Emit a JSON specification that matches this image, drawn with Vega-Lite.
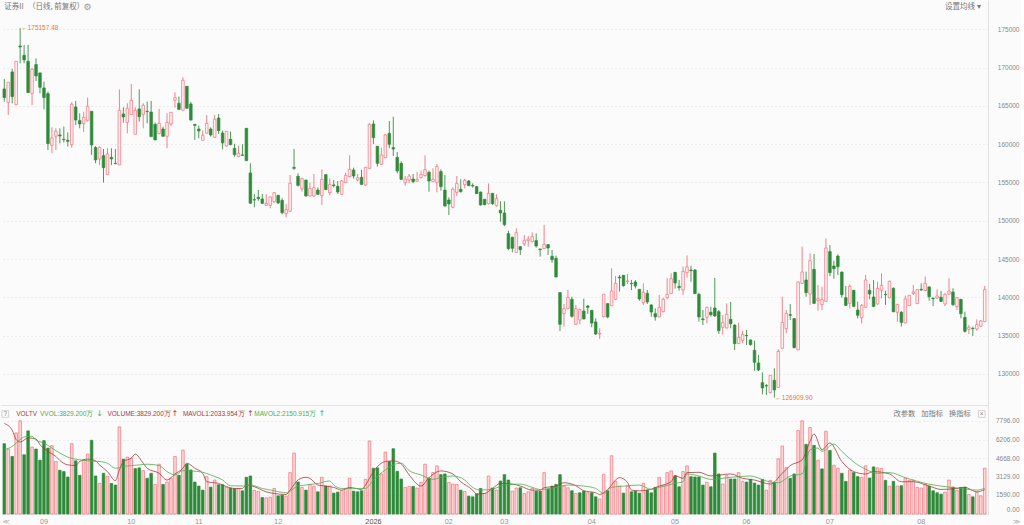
{
"$schema":"https://vega.github.io/schema/vega-lite/v6.json",
"description":"Daily candlestick chart of 证券II with a volume panel below.",
"padding":0,
"spacing":0,
"background":"#fbfbfb",
"config":{"view":{"stroke":null}},
"resolve":{"scale":{"color":"independent"}},
"datasets":{
"bars":[
{"i":0,"o":167210,"c":166080,"h":168510,"l":165550,"v":5881,"u":0},
{"i":1,"o":165470,"c":168080,"h":168080,"l":163810,"v":5431,"u":1},
{"i":2,"o":169430,"c":166210,"h":169820,"l":165340,"v":4812,"u":0},
{"i":3,"o":165160,"c":170820,"h":170820,"l":165160,"v":6782,"u":1},
{"i":4,"o":172820,"c":172690,"h":175157,"l":170560,"v":7795,"u":1},
{"i":5,"o":171600,"c":171000,"h":172950,"l":170560,"v":4953,"u":0},
{"i":6,"o":170820,"c":166730,"h":172950,"l":166730,"v":6951,"u":0},
{"i":7,"o":166640,"c":169780,"h":169910,"l":165120,"v":5600,"u":1},
{"i":8,"o":170390,"c":168910,"h":171210,"l":168250,"v":5431,"u":0},
{"i":9,"o":169300,"c":167430,"h":169340,"l":166640,"v":4502,"u":0},
{"i":10,"o":167340,"c":166080,"h":168170,"l":164550,"v":6135,"u":0},
{"i":11,"o":166600,"c":160070,"h":166860,"l":159240,"v":5515,"u":0},
{"i":12,"o":159850,"c":160810,"h":162200,"l":158810,"v":5712,"u":1},
{"i":13,"o":161030,"c":161680,"h":162070,"l":159240,"v":4390,"u":1},
{"i":14,"o":161200,"c":161070,"h":162070,"l":160110,"v":3658,"u":0},
{"i":15,"o":160630,"c":160590,"h":162290,"l":160200,"v":3546,"u":0},
{"i":16,"o":160500,"c":160370,"h":161550,"l":159680,"v":3095,"u":0},
{"i":17,"o":159940,"c":165210,"h":165470,"l":159550,"v":5881,"u":1},
{"i":18,"o":164860,"c":163160,"h":165640,"l":162510,"v":4446,"u":0},
{"i":19,"o":163070,"c":162640,"h":164030,"l":162070,"v":3236,"u":0},
{"i":20,"o":162680,"c":163510,"h":164250,"l":161590,"v":4531,"u":1},
{"i":21,"o":163120,"c":164940,"h":166080,"l":162940,"v":5009,"u":1},
{"i":22,"o":164290,"c":159890,"h":164290,"l":158590,"v":6163,"u":0},
{"i":23,"o":159550,"c":157940,"h":159760,"l":157500,"v":3180,"u":0},
{"i":24,"o":158070,"c":159590,"h":159680,"l":157280,"v":2561,"u":1},
{"i":25,"o":158500,"c":156930,"h":159370,"l":154980,"v":3405,"u":0},
{"i":26,"o":156020,"c":158720,"h":159460,"l":156020,"v":3152,"u":1},
{"i":27,"o":158280,"c":158070,"h":159460,"l":157280,"v":2561,"u":0},
{"i":28,"o":157500,"c":157460,"h":159370,"l":157370,"v":2420,"u":0},
{"i":29,"o":157280,"c":164420,"h":167160,"l":157280,"v":7288,"u":1},
{"i":30,"o":163940,"c":163550,"h":164810,"l":162810,"v":4587,"u":0},
{"i":31,"o":162850,"c":164680,"h":165340,"l":161420,"v":4756,"u":1},
{"i":32,"o":163860,"c":165730,"h":167860,"l":163860,"v":4671,"u":1},
{"i":33,"o":161290,"c":164420,"h":164810,"l":161290,"v":3799,"u":0},
{"i":34,"o":164600,"c":163590,"h":167160,"l":162940,"v":3855,"u":0},
{"i":35,"o":163900,"c":165080,"h":165340,"l":162070,"v":3630,"u":1},
{"i":36,"o":164290,"c":164250,"h":165550,"l":162720,"v":2983,"u":0},
{"i":37,"o":164200,"c":160980,"h":165640,"l":160980,"v":3405,"u":0},
{"i":38,"o":162590,"c":160550,"h":162810,"l":160550,"v":2476,"u":1},
{"i":39,"o":161370,"c":162720,"h":164600,"l":161290,"v":4165,"u":1},
{"i":40,"o":161980,"c":161030,"h":162290,"l":160980,"v":2476,"u":0},
{"i":41,"o":161030,"c":162850,"h":164030,"l":159460,"v":2673,"u":1},
{"i":42,"o":162640,"c":164160,"h":164160,"l":162380,"v":2983,"u":1},
{"i":43,"o":165730,"c":166080,"h":166770,"l":164770,"v":4812,"u":1},
{"i":44,"o":165340,"c":164550,"h":166210,"l":164470,"v":3236,"u":0},
{"i":45,"o":164420,"c":168340,"h":168730,"l":164420,"v":5347,"u":1},
{"i":46,"o":167560,"c":164680,"h":167560,"l":164680,"v":4165,"u":0},
{"i":47,"o":165250,"c":163160,"h":165510,"l":163070,"v":3686,"u":0},
{"i":48,"o":162590,"c":162460,"h":162590,"l":160550,"v":2673,"u":0},
{"i":49,"o":161980,"c":161720,"h":162420,"l":160770,"v":2336,"u":0},
{"i":50,"o":160500,"c":161160,"h":161770,"l":160500,"v":1998,"u":0},
{"i":51,"o":161420,"c":162720,"h":163810,"l":161420,"v":3124,"u":1},
{"i":52,"o":161980,"c":161200,"h":162200,"l":160980,"v":2251,"u":0},
{"i":53,"o":160900,"c":163250,"h":163810,"l":160900,"v":2842,"u":1},
{"i":54,"o":163420,"c":161770,"h":163940,"l":161330,"v":2448,"u":0},
{"i":55,"o":161460,"c":160160,"h":161770,"l":159330,"v":2448,"u":0},
{"i":56,"o":159760,"c":161680,"h":161680,"l":159680,"v":2251,"u":1},
{"i":57,"o":160630,"c":159940,"h":161640,"l":159850,"v":2167,"u":0},
{"i":58,"o":159460,"c":158630,"h":160030,"l":158370,"v":2111,"u":0},
{"i":59,"o":158370,"c":158810,"h":159810,"l":158370,"v":2111,"u":1},
{"i":60,"o":158590,"c":158550,"h":159980,"l":158460,"v":1942,"u":0},
{"i":61,"o":162070,"c":157850,"h":162070,"l":157850,"v":3067,"u":0},
{"i":62,"o":156240,"c":152280,"h":157500,"l":152280,"v":3180,"u":0},
{"i":63,"o":152750,"c":152710,"h":153490,"l":151750,"v":1970,"u":1},
{"i":64,"o":153060,"c":152880,"h":154010,"l":152620,"v":1885,"u":1},
{"i":65,"o":152840,"c":152270,"h":153490,"l":152190,"v":1379,"u":0},
{"i":66,"o":152010,"c":152270,"h":153450,"l":152010,"v":1351,"u":1},
{"i":67,"o":152010,"c":153100,"h":153140,"l":151620,"v":1407,"u":1},
{"i":68,"o":152490,"c":153670,"h":153710,"l":152360,"v":2139,"u":1},
{"i":69,"o":153320,"c":152320,"h":153360,"l":152190,"v":1520,"u":0},
{"i":70,"o":152660,"c":151050,"h":152930,"l":150840,"v":1576,"u":0},
{"i":71,"o":150920,"c":151450,"h":152190,"l":150440,"v":1491,"u":1},
{"i":72,"o":151230,"c":154880,"h":155970,"l":151230,"v":3461,"u":1},
{"i":73,"o":156970,"c":156840,"h":159370,"l":156630,"v":5093,"u":1},
{"i":74,"o":155800,"c":154620,"h":156190,"l":154450,"v":2673,"u":0},
{"i":75,"o":154140,"c":155490,"h":155620,"l":153800,"v":2223,"u":1},
{"i":76,"o":155320,"c":153230,"h":155320,"l":153140,"v":1998,"u":0},
{"i":77,"o":153230,"c":154230,"h":155020,"l":153140,"v":2476,"u":1},
{"i":78,"o":153230,"c":154320,"h":156100,"l":153140,"v":2336,"u":1},
{"i":79,"o":154010,"c":153450,"h":154360,"l":153360,"v":1857,"u":0},
{"i":80,"o":153270,"c":155410,"h":156710,"l":152060,"v":3067,"u":1},
{"i":81,"o":156020,"c":154060,"h":156020,"l":154010,"v":2336,"u":0},
{"i":82,"o":153670,"c":154750,"h":155540,"l":153360,"v":2336,"u":1},
{"i":83,"o":154670,"c":154580,"h":155320,"l":154360,"v":1745,"u":0},
{"i":84,"o":154490,"c":153750,"h":155190,"l":153490,"v":1829,"u":0},
{"i":85,"o":153450,"c":155190,"h":155320,"l":153360,"v":1942,"u":1},
{"i":86,"o":154970,"c":155930,"h":156280,"l":154970,"v":2139,"u":1},
{"i":87,"o":155760,"c":156710,"h":158540,"l":155670,"v":2983,"u":1},
{"i":88,"o":156630,"c":155840,"h":156930,"l":155490,"v":1914,"u":0},
{"i":89,"o":155320,"c":155620,"h":156100,"l":155150,"v":1857,"u":0},
{"i":90,"o":155670,"c":154750,"h":156630,"l":154670,"v":1942,"u":0},
{"i":91,"o":154670,"c":156970,"h":156970,"l":154580,"v":2898,"u":1},
{"i":92,"o":156840,"c":162590,"h":162720,"l":156840,"v":6106,"u":1},
{"i":93,"o":162630,"c":160850,"h":163110,"l":160020,"v":3827,"u":0},
{"i":94,"o":159720,"c":157500,"h":159720,"l":157060,"v":3855,"u":0},
{"i":95,"o":157370,"c":158590,"h":159540,"l":157280,"v":3349,"u":1},
{"i":96,"o":158240,"c":161200,"h":161330,"l":158150,"v":5178,"u":1},
{"i":97,"o":161410,"c":159980,"h":163030,"l":159460,"v":4390,"u":0},
{"i":98,"o":159540,"c":159370,"h":163590,"l":158450,"v":5459,"u":0},
{"i":99,"o":158280,"c":156500,"h":158980,"l":156190,"v":3574,"u":0},
{"i":100,"o":157500,"c":155410,"h":157760,"l":155320,"v":2927,"u":0},
{"i":101,"o":154970,"c":155450,"h":155840,"l":154580,"v":2223,"u":1},
{"i":102,"o":155320,"c":155840,"h":156100,"l":154880,"v":2307,"u":1},
{"i":103,"o":155450,"c":155100,"h":156100,"l":154880,"v":2307,"u":0},
{"i":104,"o":155150,"c":155410,"h":156370,"l":155100,"v":2167,"u":1},
{"i":105,"o":155620,"c":156020,"h":156540,"l":155540,"v":2645,"u":1},
{"i":106,"o":155890,"c":156670,"h":158540,"l":155760,"v":4165,"u":1},
{"i":107,"o":156320,"c":155190,"h":156540,"l":153800,"v":3011,"u":0},
{"i":108,"o":155100,"c":155410,"h":156840,"l":155100,"v":3461,"u":1},
{"i":109,"o":154970,"c":157060,"h":157410,"l":153710,"v":4024,"u":1},
{"i":110,"o":156410,"c":154450,"h":156710,"l":153930,"v":3292,"u":0},
{"i":111,"o":154010,"c":151920,"h":155970,"l":151840,"v":3349,"u":0},
{"i":112,"o":152710,"c":152190,"h":153060,"l":150750,"v":2645,"u":1},
{"i":113,"o":151750,"c":154100,"h":154360,"l":151620,"v":2504,"u":1},
{"i":114,"o":153710,"c":154880,"h":155840,"l":153230,"v":2476,"u":1},
{"i":115,"o":154100,"c":153800,"h":155410,"l":153670,"v":1998,"u":0},
{"i":116,"o":154710,"c":155280,"h":155490,"l":154230,"v":1885,"u":1},
{"i":117,"o":155190,"c":154580,"h":155320,"l":154540,"v":1491,"u":0},
{"i":118,"o":154620,"c":154540,"h":154880,"l":154320,"v":1435,"u":0},
{"i":119,"o":154450,"c":153540,"h":154540,"l":153490,"v":1688,"u":0},
{"i":120,"o":153750,"c":152060,"h":153800,"l":151970,"v":2139,"u":0},
{"i":121,"o":152800,"c":152100,"h":152840,"l":152010,"v":1717,"u":1},
{"i":122,"o":152230,"c":153580,"h":154880,"l":152140,"v":3180,"u":1},
{"i":123,"o":153580,"c":152230,"h":153620,"l":152060,"v":2167,"u":0},
{"i":124,"o":151970,"c":152880,"h":153450,"l":151840,"v":1998,"u":1},
{"i":125,"o":151360,"c":151010,"h":152530,"l":149880,"v":2758,"u":0},
{"i":126,"o":151010,"c":149490,"h":152530,"l":149310,"v":3292,"u":0},
{"i":127,"o":148310,"c":146350,"h":148700,"l":146180,"v":2842,"u":0},
{"i":128,"o":147830,"c":146400,"h":147920,"l":145870,"v":1914,"u":1},
{"i":129,"o":145870,"c":148440,"h":149010,"l":145870,"v":2167,"u":1},
{"i":130,"o":146610,"c":146220,"h":146700,"l":145530,"v":2195,"u":0},
{"i":131,"o":146960,"c":147440,"h":148140,"l":146700,"v":1717,"u":1},
{"i":132,"o":147400,"c":147610,"h":148010,"l":146610,"v":1857,"u":1},
{"i":133,"o":147270,"c":147920,"h":148490,"l":147180,"v":2139,"u":1},
{"i":134,"o":147400,"c":146700,"h":148350,"l":146480,"v":1914,"u":0},
{"i":135,"o":146310,"c":146220,"h":146310,"l":145310,"v":1914,"u":0},
{"i":136,"o":146350,"c":146920,"h":149440,"l":146310,"v":3461,"u":1},
{"i":137,"o":146870,"c":146440,"h":146960,"l":145530,"v":2082,"u":0},
{"i":138,"o":145350,"c":144920,"h":146180,"l":144520,"v":2336,"u":0},
{"i":139,"o":145090,"c":142650,"h":145440,"l":142610,"v":2476,"u":0},
{"i":140,"o":140610,"c":136470,"h":140650,"l":135600,"v":3292,"u":0},
{"i":141,"o":137860,"c":138520,"h":139130,"l":136170,"v":2336,"u":1},
{"i":142,"o":138520,"c":140000,"h":140950,"l":138430,"v":2195,"u":1},
{"i":143,"o":139740,"c":137520,"h":140080,"l":137340,"v":1942,"u":0},
{"i":144,"o":136470,"c":138520,"h":139000,"l":136380,"v":1717,"u":1},
{"i":145,"o":137040,"c":138390,"h":138520,"l":136470,"v":1773,"u":0},
{"i":146,"o":138210,"c":137170,"h":139820,"l":137120,"v":1914,"u":0},
{"i":147,"o":138860,"c":138690,"h":139000,"l":137820,"v":1773,"u":1},
{"i":148,"o":138300,"c":136640,"h":138340,"l":136080,"v":1773,"u":0},
{"i":149,"o":136780,"c":135210,"h":137250,"l":135080,"v":1435,"u":0},
{"i":150,"o":135210,"c":135300,"h":135950,"l":134560,"v":1266,"u":1},
{"i":151,"o":137470,"c":140390,"h":140390,"l":137380,"v":3321,"u":1},
{"i":152,"o":139170,"c":137430,"h":139210,"l":137250,"v":1942,"u":0},
{"i":153,"o":138910,"c":140820,"h":143780,"l":138910,"v":4868,"u":1},
{"i":154,"o":139740,"c":141820,"h":142780,"l":139650,"v":2730,"u":1},
{"i":155,"o":142650,"c":142520,"h":142910,"l":140740,"v":2336,"u":1},
{"i":156,"o":142870,"c":141520,"h":142910,"l":141390,"v":1745,"u":0},
{"i":157,"o":142040,"c":142130,"h":143040,"l":141740,"v":2336,"u":1},
{"i":158,"o":141820,"c":141780,"h":142260,"l":140950,"v":1857,"u":0},
{"i":159,"o":142000,"c":141480,"h":142260,"l":141170,"v":1914,"u":0},
{"i":160,"o":141040,"c":139780,"h":141040,"l":139560,"v":1745,"u":0},
{"i":161,"o":139300,"c":140650,"h":141820,"l":139000,"v":2561,"u":1},
{"i":162,"o":140520,"c":139390,"h":140950,"l":139130,"v":1998,"u":0},
{"i":163,"o":139000,"c":138080,"h":139080,"l":137470,"v":1773,"u":0},
{"i":164,"o":137860,"c":137430,"h":138560,"l":136950,"v":2223,"u":0},
{"i":165,"o":137430,"c":138690,"h":140300,"l":137380,"v":3067,"u":1},
{"i":166,"o":138120,"c":139740,"h":139950,"l":138040,"v":2364,"u":1},
{"i":167,"o":139950,"c":140390,"h":142480,"l":139740,"v":3461,"u":1},
{"i":168,"o":140480,"c":142430,"h":143130,"l":140430,"v":3602,"u":1},
{"i":169,"o":143260,"c":141870,"h":143310,"l":141130,"v":3208,"u":0},
{"i":170,"o":141430,"c":141260,"h":142260,"l":140870,"v":2279,"u":0},
{"i":171,"o":140950,"c":143390,"h":144000,"l":140300,"v":3546,"u":1},
{"i":172,"o":143220,"c":143960,"h":145480,"l":142560,"v":4024,"u":1},
{"i":173,"o":143570,"c":143480,"h":144130,"l":142040,"v":3124,"u":0},
{"i":174,"o":143570,"c":140480,"h":143650,"l":140430,"v":3095,"u":0},
{"i":175,"o":140390,"c":137430,"h":140610,"l":136820,"v":3095,"u":0},
{"i":176,"o":137170,"c":137080,"h":138340,"l":136380,"v":2420,"u":0},
{"i":177,"o":137380,"c":138690,"h":138780,"l":136600,"v":2645,"u":1},
{"i":178,"o":138040,"c":137730,"h":138780,"l":137470,"v":2279,"u":0},
{"i":179,"o":138600,"c":137560,"h":142520,"l":137470,"v":5093,"u":0},
{"i":180,"o":138120,"c":135640,"h":138340,"l":135210,"v":3349,"u":0},
{"i":181,"o":136080,"c":136690,"h":137690,"l":135120,"v":2504,"u":1},
{"i":182,"o":135990,"c":137780,"h":139210,"l":135950,"v":3208,"u":1},
{"i":183,"o":137120,"c":136560,"h":139390,"l":135950,"v":2927,"u":0},
{"i":184,"o":136380,"c":133950,"h":136470,"l":133120,"v":2927,"u":0},
{"i":185,"o":133950,"c":134770,"h":136690,"l":133900,"v":3461,"u":1},
{"i":186,"o":134380,"c":135160,"h":135640,"l":133990,"v":2730,"u":1},
{"i":187,"o":135030,"c":134990,"h":135730,"l":133770,"v":2673,"u":0},
{"i":188,"o":134420,"c":133820,"h":134510,"l":133680,"v":2898,"u":0},
{"i":189,"o":133080,"c":131510,"h":134340,"l":130420,"v":2589,"u":0},
{"i":190,"o":131420,"c":130510,"h":132470,"l":130380,"v":2420,"u":0},
{"i":191,"o":128850,"c":128160,"h":130200,"l":127330,"v":2898,"u":0},
{"i":192,"o":128460,"c":128420,"h":128680,"l":127240,"v":1998,"u":1},
{"i":193,"o":127550,"c":129810,"h":129810,"l":127460,"v":2814,"u":1},
{"i":194,"o":129160,"c":127900,"h":130720,"l":126910,"v":2645,"u":0},
{"i":195,"o":128240,"c":132940,"h":133210,"l":128240,"v":4615,"u":1},
{"i":196,"o":133340,"c":136730,"h":140080,"l":133340,"v":5684,"u":1},
{"i":197,"o":135900,"c":137910,"h":138340,"l":135300,"v":3883,"u":1},
{"i":198,"o":137730,"c":137650,"h":139130,"l":137040,"v":2983,"u":0},
{"i":199,"o":137210,"c":133420,"h":137300,"l":133340,"v":3349,"u":0},
{"i":200,"o":133120,"c":142000,"h":142040,"l":133120,"v":6979,"u":1},
{"i":201,"o":141820,"c":143300,"h":146610,"l":141740,"v":7795,"u":1},
{"i":202,"o":142260,"c":140610,"h":143350,"l":140080,"v":5825,"u":0},
{"i":203,"o":140430,"c":144780,"h":145740,"l":139000,"v":7232,"u":1},
{"i":204,"o":143650,"c":139210,"h":145660,"l":139130,"v":5741,"u":0},
{"i":205,"o":139560,"c":139820,"h":141610,"l":138260,"v":4502,"u":1},
{"i":206,"o":139040,"c":139690,"h":141390,"l":138340,"v":3771,"u":0},
{"i":207,"o":139470,"c":146440,"h":147700,"l":139430,"v":6922,"u":1},
{"i":208,"o":145960,"c":143220,"h":146830,"l":142780,"v":5318,"u":0},
{"i":209,"o":144090,"c":143740,"h":144780,"l":142430,"v":4080,"u":1},
{"i":210,"o":145390,"c":144000,"h":145610,"l":142910,"v":3827,"u":1},
{"i":211,"o":143300,"c":140340,"h":143350,"l":139950,"v":3405,"u":0},
{"i":212,"o":139950,"c":138950,"h":141480,"l":138860,"v":2730,"u":0},
{"i":213,"o":139210,"c":141430,"h":141690,"l":138560,"v":3686,"u":1},
{"i":214,"o":140910,"c":138820,"h":140950,"l":138690,"v":3461,"u":0},
{"i":215,"o":138340,"c":137650,"h":139430,"l":137250,"v":3124,"u":0},
{"i":216,"o":137340,"c":138950,"h":139130,"l":136600,"v":3067,"u":1},
{"i":217,"o":138690,"c":142260,"h":142910,"l":138690,"v":4024,"u":1},
{"i":218,"o":140910,"c":140430,"h":141740,"l":139740,"v":3011,"u":0},
{"i":219,"o":140040,"c":138820,"h":142260,"l":138690,"v":3940,"u":0},
{"i":220,"o":139130,"c":141170,"h":142040,"l":139040,"v":3855,"u":1},
{"i":221,"o":140910,"c":141560,"h":143130,"l":139870,"v":3799,"u":1},
{"i":222,"o":140390,"c":140340,"h":140870,"l":139000,"v":2814,"u":0},
{"i":223,"o":139950,"c":142090,"h":142170,"l":139870,"v":2336,"u":1},
{"i":224,"o":141170,"c":138120,"h":141300,"l":138040,"v":2730,"u":0},
{"i":225,"o":138040,"c":139080,"h":139130,"l":136820,"v":2336,"u":1},
{"i":226,"o":138040,"c":136730,"h":138210,"l":136170,"v":2364,"u":0},
{"i":227,"o":136640,"c":139780,"h":140210,"l":136600,"v":3011,"u":1},
{"i":228,"o":138910,"c":140260,"h":140300,"l":138860,"v":2814,"u":1},
{"i":229,"o":140520,"c":140690,"h":141610,"l":140300,"v":2842,"u":1},
{"i":230,"o":139170,"c":141000,"h":141040,"l":139130,"v":2223,"u":1},
{"i":231,"o":141040,"c":140950,"h":141820,"l":140870,"v":2167,"u":1},
{"i":232,"o":140870,"c":141820,"h":142700,"l":140820,"v":2504,"u":1},
{"i":233,"o":141350,"c":140080,"h":141430,"l":139560,"v":2336,"u":0},
{"i":234,"o":139910,"c":139820,"h":139910,"l":138860,"v":1942,"u":0},
{"i":235,"o":139910,"c":140170,"h":141040,"l":139780,"v":1773,"u":0},
{"i":236,"o":140000,"c":139470,"h":140820,"l":139390,"v":1660,"u":0},
{"i":237,"o":139130,"c":140390,"h":140520,"l":138860,"v":1829,"u":1},
{"i":238,"o":140430,"c":140820,"h":142480,"l":140300,"v":2842,"u":1},
{"i":239,"o":140690,"c":139040,"h":141170,"l":138860,"v":2251,"u":0},
{"i":240,"o":138780,"c":139950,"h":140000,"l":138340,"v":1998,"u":1},
{"i":241,"o":139740,"c":137860,"h":139780,"l":137250,"v":2223,"u":0},
{"i":242,"o":137380,"c":135560,"h":138120,"l":135380,"v":2251,"u":0},
{"i":243,"o":135820,"c":136080,"h":136380,"l":135210,"v":1632,"u":1},
{"i":244,"o":135950,"c":135900,"h":136170,"l":134950,"v":1435,"u":0},
{"i":245,"o":135860,"c":136430,"h":137120,"l":135640,"v":1801,"u":1},
{"i":246,"o":136210,"c":136910,"h":137040,"l":136170,"v":1520,"u":1},
{"i":247,"o":136820,"c":141000,"h":141480,"l":136820,"v":3829,"u":1}
],
"ma":[
{"i":0,"s":"MAVOL1","v":7570},{"i":2,"s":"MAVOL1","v":7007},{"i":3,"s":"MAVOL1","v":6219},{"i":4,"s":"MAVOL1","v":6022},{"i":6,"s":"MAVOL1","v":6360},{"i":8,"s":"MAVOL1","v":6275},{"i":9,"s":"MAVOL1","v":5797},{"i":11,"s":"MAVOL1","v":5234},{"i":13,"s":"MAVOL1","v":4812},{"i":14,"s":"MAVOL1","v":4474},{"i":16,"s":"MAVOL1","v":4108},{"i":18,"s":"MAVOL1","v":4052},{"i":19,"s":"MAVOL1","v":4390},{"i":21,"s":"MAVOL1","v":4587},{"i":23,"s":"MAVOL1","v":4446},{"i":24,"s":"MAVOL1","v":4108},{"i":26,"s":"MAVOL1","v":3546},{"i":28,"s":"MAVOL1","v":2786},{"i":29,"s":"MAVOL1","v":3686},{"i":30,"s":"MAVOL1","v":4390},{"i":32,"s":"MAVOL1","v":4671},{"i":33,"s":"MAVOL1","v":5009},{"i":35,"s":"MAVOL1","v":4249},{"i":36,"s":"MAVOL1","v":3827},{"i":39,"s":"MAVOL1","v":3405},{"i":41,"s":"MAVOL1","v":2842},{"i":43,"s":"MAVOL1","v":3349},{"i":45,"s":"MAVOL1","v":3827},{"i":46,"s":"MAVOL1","v":4249},{"i":48,"s":"MAVOL1","v":3827},{"i":50,"s":"MAVOL1","v":3405},{"i":51,"s":"MAVOL1","v":2701},{"i":54,"s":"MAVOL1","v":2561},{"i":56,"s":"MAVOL1","v":2279},{"i":58,"s":"MAVOL1","v":2139},{"i":60,"s":"MAVOL1","v":2139},{"i":61,"s":"MAVOL1","v":2420},{"i":63,"s":"MAVOL1","v":2279},{"i":66,"s":"MAVOL1","v":1857},{"i":68,"s":"MAVOL1","v":1717},{"i":71,"s":"MAVOL1","v":1632},{"i":72,"s":"MAVOL1","v":1998},{"i":74,"s":"MAVOL1","v":2842},{"i":76,"s":"MAVOL1","v":3067},{"i":77,"s":"MAVOL1","v":2983},{"i":79,"s":"MAVOL1","v":2420},{"i":81,"s":"MAVOL1","v":2336},{"i":83,"s":"MAVOL1","v":2223},{"i":85,"s":"MAVOL1","v":1998},{"i":87,"s":"MAVOL1","v":2223},{"i":90,"s":"MAVOL1","v":2054},{"i":91,"s":"MAVOL1","v":2420},{"i":93,"s":"MAVOL1","v":3546},{"i":96,"s":"MAVOL1","v":4390},{"i":98,"s":"MAVOL1","v":4446},{"i":100,"s":"MAVOL1","v":4193},{"i":102,"s":"MAVOL1","v":3264},{"i":105,"s":"MAVOL1","v":2336},{"i":107,"s":"MAVOL1","v":3039},{"i":110,"s":"MAVOL1","v":3602},{"i":113,"s":"MAVOL1","v":3349},{"i":115,"s":"MAVOL1","v":2701},{"i":118,"s":"MAVOL1","v":1998},{"i":119,"s":"MAVOL1","v":1660},{"i":121,"s":"MAVOL1","v":1717},{"i":123,"s":"MAVOL1","v":2139},{"i":125,"s":"MAVOL1","v":2561},{"i":128,"s":"MAVOL1","v":2504},{"i":130,"s":"MAVOL1","v":2336},{"i":133,"s":"MAVOL1","v":1998},{"i":135,"s":"MAVOL1","v":1998},{"i":136,"s":"MAVOL1","v":2195},{"i":139,"s":"MAVOL1","v":2336},{"i":141,"s":"MAVOL1","v":2617},{"i":144,"s":"MAVOL1","v":2364},{"i":146,"s":"MAVOL1","v":1942},{"i":149,"s":"MAVOL1","v":1773},{"i":150,"s":"MAVOL1","v":1632},{"i":152,"s":"MAVOL1","v":2054},{"i":155,"s":"MAVOL1","v":3039},{"i":157,"s":"MAVOL1","v":2645},{"i":158,"s":"MAVOL1","v":1998},{"i":160,"s":"MAVOL1","v":1942},{"i":163,"s":"MAVOL1","v":2082},{"i":165,"s":"MAVOL1","v":2336},{"i":168,"s":"MAVOL1","v":2701},{"i":169,"s":"MAVOL1","v":3180},{"i":171,"s":"MAVOL1","v":2983},{"i":172,"s":"MAVOL1","v":3461},{"i":175,"s":"MAVOL1","v":3489},{"i":178,"s":"MAVOL1","v":3180},{"i":183,"s":"MAVOL1","v":3349},{"i":186,"s":"MAVOL1","v":2983},{"i":189,"s":"MAVOL1","v":2842},{"i":193,"s":"MAVOL1","v":2504},{"i":196,"s":"MAVOL1","v":3405},{"i":198,"s":"MAVOL1","v":4052},{"i":201,"s":"MAVOL1","v":4531},{"i":203,"s":"MAVOL1","v":6078},{"i":204,"s":"MAVOL1","v":6697},{"i":206,"s":"MAVOL1","v":5375},{"i":208,"s":"MAVOL1","v":5938},{"i":211,"s":"MAVOL1","v":4390},{"i":214,"s":"MAVOL1","v":3546},{"i":217,"s":"MAVOL1","v":3349},{"i":219,"s":"MAVOL1","v":3546},{"i":223,"s":"MAVOL1","v":3349},{"i":226,"s":"MAVOL1","v":2701},{"i":229,"s":"MAVOL1","v":2701},{"i":233,"s":"MAVOL1","v":2336},{"i":236,"s":"MAVOL1","v":2054},{"i":240,"s":"MAVOL1","v":2139},{"i":242,"s":"MAVOL1","v":2223},{"i":245,"s":"MAVOL1","v":1857},{"i":247,"s":"MAVOL1","v":2034},
{"i":0,"s":"MAVOL2","v":5375},{"i":2,"s":"MAVOL2","v":5656},{"i":4,"s":"MAVOL2","v":6219},{"i":5,"s":"MAVOL2","v":6444},{"i":7,"s":"MAVOL2","v":6500},{"i":8,"s":"MAVOL2","v":6163},{"i":10,"s":"MAVOL2","v":5938},{"i":12,"s":"MAVOL2","v":5515},{"i":14,"s":"MAVOL2","v":5093},{"i":16,"s":"MAVOL2","v":4756},{"i":19,"s":"MAVOL2","v":4531},{"i":21,"s":"MAVOL2","v":4446},{"i":24,"s":"MAVOL2","v":4390},{"i":26,"s":"MAVOL2","v":4249},{"i":28,"s":"MAVOL2","v":3827},{"i":30,"s":"MAVOL2","v":3968},{"i":32,"s":"MAVOL2","v":4052},{"i":34,"s":"MAVOL2","v":4108},{"i":36,"s":"MAVOL2","v":4165},{"i":39,"s":"MAVOL2","v":4052},{"i":41,"s":"MAVOL2","v":3546},{"i":43,"s":"MAVOL2","v":3264},{"i":45,"s":"MAVOL2","v":3630},{"i":47,"s":"MAVOL2","v":3602},{"i":50,"s":"MAVOL2","v":3489},{"i":52,"s":"MAVOL2","v":3264},{"i":55,"s":"MAVOL2","v":2842},{"i":57,"s":"MAVOL2","v":2364},{"i":60,"s":"MAVOL2","v":2336},{"i":62,"s":"MAVOL2","v":2420},{"i":65,"s":"MAVOL2","v":2139},{"i":68,"s":"MAVOL2","v":1942},{"i":71,"s":"MAVOL2","v":1773},{"i":74,"s":"MAVOL2","v":2336},{"i":76,"s":"MAVOL2","v":2420},{"i":79,"s":"MAVOL2","v":2561},{"i":82,"s":"MAVOL2","v":2758},{"i":83,"s":"MAVOL2","v":2420},{"i":85,"s":"MAVOL2","v":2139},{"i":88,"s":"MAVOL2","v":2139},{"i":91,"s":"MAVOL2","v":2139},{"i":93,"s":"MAVOL2","v":2842},{"i":96,"s":"MAVOL2","v":3686},{"i":98,"s":"MAVOL2","v":4108},{"i":100,"s":"MAVOL2","v":4249},{"i":102,"s":"MAVOL2","v":3630},{"i":105,"s":"MAVOL2","v":3264},{"i":108,"s":"MAVOL2","v":2898},{"i":110,"s":"MAVOL2","v":3067},{"i":113,"s":"MAVOL2","v":3180},{"i":116,"s":"MAVOL2","v":2842},{"i":118,"s":"MAVOL2","v":2223},{"i":120,"s":"MAVOL2","v":1998},{"i":123,"s":"MAVOL2","v":2082},{"i":126,"s":"MAVOL2","v":2420},{"i":130,"s":"MAVOL2","v":2504},{"i":133,"s":"MAVOL2","v":2223},{"i":135,"s":"MAVOL2","v":2054},{"i":139,"s":"MAVOL2","v":2223},{"i":142,"s":"MAVOL2","v":2420},{"i":146,"s":"MAVOL2","v":2336},{"i":149,"s":"MAVOL2","v":2139},{"i":151,"s":"MAVOL2","v":1717},{"i":153,"s":"MAVOL2","v":2223},{"i":156,"s":"MAVOL2","v":2336},{"i":160,"s":"MAVOL2","v":2420},{"i":163,"s":"MAVOL2","v":2054},{"i":165,"s":"MAVOL2","v":2223},{"i":169,"s":"MAVOL2","v":2561},{"i":171,"s":"MAVOL2","v":2701},{"i":172,"s":"MAVOL2","v":3349},{"i":175,"s":"MAVOL2","v":3180},{"i":178,"s":"MAVOL2","v":2898},{"i":183,"s":"MAVOL2","v":3067},{"i":188,"s":"MAVOL2","v":3180},{"i":192,"s":"MAVOL2","v":2758},{"i":195,"s":"MAVOL2","v":2617},{"i":198,"s":"MAVOL2","v":3180},{"i":201,"s":"MAVOL2","v":3349},{"i":203,"s":"MAVOL2","v":5375},{"i":205,"s":"MAVOL2","v":5515},{"i":206,"s":"MAVOL2","v":5234},{"i":209,"s":"MAVOL2","v":5853},{"i":211,"s":"MAVOL2","v":5234},{"i":215,"s":"MAVOL2","v":4108},{"i":217,"s":"MAVOL2","v":3743},{"i":220,"s":"MAVOL2","v":3405},{"i":223,"s":"MAVOL2","v":3461},{"i":227,"s":"MAVOL2","v":3039},{"i":232,"s":"MAVOL2","v":2561},{"i":236,"s":"MAVOL2","v":2336},{"i":241,"s":"MAVOL2","v":2139},{"i":245,"s":"MAVOL2","v":1998},{"i":247,"s":"MAVOL2","v":2151}
],
"topText":[
{"i":0,"p":177850,"t":"证券II","k":"head"},
{"i":6,"p":177850,"t":"（日线, 前复权）","k":"head"},
{"i":237,"p":177850,"t":"设置均线 ▾","k":"head"}
],
"extremes":[
{"i":4,"p":175157,"t":"←175157.48"},
{"i":194,"p":126800,"t":"←126909.90"}
],
"volHead":[
{"i":3,"v":8360,"t":"VOLTV","k":"name"},
{"i":9,"v":8360,"t":"VVOL:3829.200万","k":"VVOL"},
{"i":26,"v":8360,"t":"VOLUME:3829.200万","k":"VOLUME"},
{"i":45,"v":8360,"t":"MAVOL1:2033.954万","k":"MAVOL1"},
{"i":63,"v":8360,"t":"MAVOL2:2150.915万","k":"MAVOL2"}
],
"volArrows":[
{"i":24,"v":8360,"t":"↓","k":"VVOL"},
{"i":43,"v":8360,"t":"↑","k":"VOLUME"},
{"i":62,"v":8360,"t":"↑","k":"MAVOL1"},
{"i":80,"v":8360,"t":"↑","k":"MAVOL2"}
],
"volTools":[
{"i":224,"v":8360,"t":"改参数"},
{"i":231,"v":8360,"t":"加指标"},
{"i":238,"v":8360,"t":"换指标"}
],
"boxes":[
{"i":0,"v":8360,"t":"?"},
{"i":246,"v":8360,"t":"×"}
]
},
"vconcat":[
{
"width":987,
"height":405,
"encoding":{
"x":{"field":"i","type":"ordinal","scale":{"paddingInner":0.35,"paddingOuter":0.5},"axis":{"title":null,"labels":false,"ticks":false,"grid":false,"domainColor":"#e4e4e4"}}
},
"layer":[
{
"mark":{"type":"rule","color":"#eeeeee","strokeWidth":1},
"encoding":{"x":null,"y":{"datum":177000,"type":"quantitative","scale":{"domain":[125934,178826],"zero":false,"nice":false},"axis":{"orient":"right","title":null,"values":[130000,135000,140000,145000,150000,155000,160000,165000,170000,175000],"tickCount":12,"format":"d","labelFont":"Liberation Sans","labelFontSize":6.5,"labelColor":"#888888","labelPadding":31,"labelAlign":"right","labelOverlap":false,"ticks":false,"domainColor":"#e0e0e0","grid":true,"gridColor":"#dddddd","gridDash":[1,3]}}}
},
{
"data":{"name":"bars"},
"mark":{"type":"rule","strokeWidth":1},
"encoding":{
"y":{"field":"h","type":"quantitative"},
"y2":{"field":"l"},
"color":{"condition":{"test":"datum.c>=datum.o","value":"#f0808a"},"value":"#4d9a55"}
}
},
{
"data":{"name":"bars"},
"mark":{"type":"bar","strokeWidth":0.7},
"encoding":{
"y":{"field":"o","type":"quantitative"},
"y2":{"field":"c"},
"fill":{"condition":{"test":"datum.c>=datum.o","value":"#fff2f2"},"value":"#2e8b3a"},
"stroke":{"condition":{"test":"datum.c>=datum.o","value":"#f0707a"},"value":"#2e8b3a"}
}
},
{
"data":{"name":"topText"},
"mark":{"type":"text","align":"left","baseline":"middle","font":"Noto Sans CJK SC","fontSize":7.5,"color":"#777777"},
"encoding":{"y":{"field":"p","type":"quantitative"},"text":{"field":"t"}}
},
{
"data":{"values":[{"i":21,"p":177850,"t":"⚙"}]},
"mark":{"type":"text","align":"center","baseline":"middle","font":"DejaVu Sans","fontSize":9,"color":"#999999"},
"encoding":{"y":{"field":"p","type":"quantitative"},"text":{"field":"t"}}
},
{
"data":{"name":"extremes"},
"mark":{"type":"text","align":"left","baseline":"middle","font":"Liberation Sans","fontSize":6.5,"color":"#ee7733","dx":1},
"encoding":{"y":{"field":"p","type":"quantitative"},"text":{"field":"t"}}
}
]
},
{
"width":987,
"height":109,
"encoding":{
"x":{"field":"i","type":"ordinal","scale":{"paddingInner":0.35,"paddingOuter":0.5},"axis":{"title":null,"values":[10,32,49,69,93,112,126,148,169,187,208,231],"labelExpr":"{'10':'09','32':'10','49':'11','69':'12','93':'2026','112':'02','126':'03','148':'04','169':'05','187':'06','208':'07','231':'08'}[datum.value]","labelAngle":0,"labelFont":"Liberation Sans","labelFontSize":7.3,"labelColor":{"condition":{"test":"datum.value==93","value":"#555555"},"value":"#999999"},"labelPadding":3,"labelOverlap":false,"ticks":false,"grid":false,"domainColor":"#e4e4e4"}}
},
"layer":[
{
"data":{"name":"bars"},
"mark":{"type":"bar","strokeWidth":0.7},
"encoding":{
"y":{"field":"v","type":"quantitative","scale":{"domain":[0,9116],"nice":false},"axis":{"orient":"right","title":null,"values":[0,1590,3129,4668,6206,7796],"tickCount":10,"format":".2f","labelFont":"Liberation Sans","labelFontSize":6.5,"labelColor":"#888888","labelPadding":31,"labelAlign":"right","labelOverlap":false,"labelBaseline":{"condition":{"test":"datum.value==0","value":"bottom"},"value":"middle"},"labelOffset":{"condition":{"test":"datum.value==0","value":-2},"value":0},"ticks":false,"domainColor":"#e0e0e0","grid":true,"gridColor":"#dddddd","gridDash":[1,3]}},
"fill":{"condition":{"test":"datum.u==1","value":"#ffd8d8"},"value":"#2e8b3a"},
"stroke":{"condition":{"test":"datum.u==1","value":"#f0707a"},"value":"#2e8b3a"}
}
},
{
"data":{"name":"ma"},
"mark":{"type":"line","strokeWidth":0.8,"interpolate":"monotone"},
"encoding":{
"y":{"field":"v","type":"quantitative"},
"color":{"field":"s","type":"nominal","legend":null,"scale":{"domain":["MAVOL1","MAVOL2"],"range":["#a83a3a","#4caf50"]}}
}
},
{
"data":{"name":"volHead"},
"mark":{"type":"text","align":"left","baseline":"middle","font":"Liberation Sans","fontSize":6.5},
"encoding":{
"y":{"field":"v","type":"quantitative"},
"text":{"field":"t"},
"color":{"field":"k","type":"nominal","legend":null,"scale":{"domain":["name","VVOL","VOLUME","MAVOL1","MAVOL2"],"range":["#666666","#3b3b9b","#aaaaaa","#a83a3a","#4a9a4a"]}}
}
},
{
"data":{"name":"volArrows"},
"mark":{"type":"text","align":"center","baseline":"middle","font":"DejaVu Sans","fontSize":8},
"encoding":{
"y":{"field":"v","type":"quantitative"},
"text":{"field":"t"},
"color":{"field":"k","type":"nominal","legend":null}
}
},
{
"data":{"name":"volTools"},
"mark":{"type":"text","align":"left","baseline":"middle","font":"Noto Sans CJK SC","fontSize":7.3,"color":"#777777"},
"encoding":{"y":{"field":"v","type":"quantitative"},"text":{"field":"t"}}
},
{
"data":{"name":"boxes"},
"mark":{"type":"point","shape":"square","size":45,"filled":false,"strokeWidth":0.7,"color":"#aaaaaa","xOffset":1},
"encoding":{"y":{"field":"v","type":"quantitative"}}
},
{
"data":{"name":"boxes"},
"mark":{"type":"text","align":"center","baseline":"middle","font":"Liberation Sans","fontSize":6.5,"color":"#888888","dx":1},
"encoding":{"y":{"field":"v","type":"quantitative"},"text":{"field":"t"}}
},
{
"data":{"values":[{"i":0,"v":-670,"t":"≪"}]},
"mark":{"type":"text","align":"center","baseline":"middle","font":"DejaVu Sans","fontSize":7,"color":"#aaaaaa","dx":2},
"encoding":{"y":{"field":"v","type":"quantitative"},"text":{"field":"t"}}
},
{
"data":{"values":[{"i":247,"v":-670,"t":"≫"}]},
"mark":{"type":"text","align":"center","baseline":"middle","font":"DejaVu Sans","fontSize":7,"color":"#aaaaaa","dx":32},
"encoding":{"y":{"field":"v","type":"quantitative"},"text":{"field":"t"}}
}
]
}
]
}
